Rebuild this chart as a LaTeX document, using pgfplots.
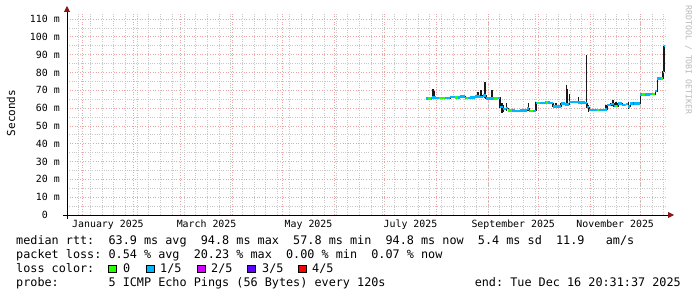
\documentclass[border=0pt]{standalone}
\usepackage{fontspec}
\setmainfont{DejaVu Sans Mono}
\setmonofont{DejaVu Sans Mono}
\usepackage{pgfplots}
\pgfplotsset{compat=1.18}
\usetikzlibrary{arrows.meta}
\definecolor{lgreen}{RGB}{38,255,0}
\definecolor{lcyan}{RGB}{0,184,255}
\definecolor{lmag}{RGB}{211,0,255}
\definecolor{lpurp}{RGB}{94,0,255}
\definecolor{lred}{RGB}{255,0,0}
\definecolor{mgrid}{RGB}{236,165,165}
\definecolor{ngrid}{RGB}{200,200,200}
\definecolor{arrowred}{RGB}{140,20,20}
\definecolor{wmark}{RGB}{185,185,185}
\newcommand\legfont{\fontsize{11.8}{14}\selectfont}
\newcommand\tickfont{\fontsize{9.9}{12}\selectfont}
\begin{document}
\begin{tikzpicture}[x=1pt,y=1pt]
\useasboundingbox[fill=white] (0,0) rectangle (697,297);
\begin{axis}[
  at={(67pt,82pt)}, anchor=south west,
  scale only axis, width=600pt, height=202pt,
  xmin=-9, xmax=350, ymin=0, ymax=113.4,
  axis x line*=bottom, axis y line*=left,
  x axis line style={black, line width=0.9pt, shorten <=-4pt, shorten >=-7pt,
     -{Triangle[length=6pt,width=6pt,color=arrowred]}},
  y axis line style={black, line width=0.9pt, shorten <=-4pt, shorten >=-7pt,
     -{Triangle[length=6pt,width=6pt,color=arrowred]}},
  xtick={0,31,59,90,120,151,181,212,243,273,304,334},
  xticklabels={},
  minor xtick={-9,-2,...,348},
  extra x ticks={15.5,74.5,135.5,196.5,258,319},
  extra x tick labels={January 2025,March 2025,May 2025,July 2025,September 2025,November 2025},
  extra x tick style={grid=none, major tick length=0pt},
  ytick={0,10,...,110},
  yticklabels={0\phantom{~m},10~m,20~m,30~m,40~m,50~m,60~m,70~m,80~m,90~m,100~m,110~m},
  minor y tick num=1,
  grid=both,
  major grid style={mgrid, dash pattern=on 1pt off 1.6pt, line width=0.8pt},
  minor grid style={ngrid, dash pattern=on 1pt off 1.3pt, line width=0.8pt},
  major tick length=0pt, minor tick length=0pt,
  ticklabel style={font=\tickfont, inner sep=0pt, text=black},
  xticklabel style={anchor=base, yshift=-13pt},
  yticklabel style={anchor=east, xshift=-7pt},
  clip=false,
]
% smoke / variation (dark) following the median
\addplot[black!90, line width=1.1pt, const plot] coordinates {
(205.8,65.5)(209.4,66.0)(211.8,65.7)(220.2,66.3)(223.2,66.0)(226.2,66.5)(229.2,65.6)(232.2,65.9)
(235.2,66.6)(238.1,66.4)(239.9,67.0)(241.7,65.5)(248.9,65.8)(250.1,60.5)(251.9,59.5)(253.7,60.0)
(254.9,58.6)(259.1,58.4)(262.1,58.7)(266.3,59.8)(267.5,58.5)(271.6,63.0)(277.0,63.2)(280.0,62.8)
(281.8,60.9)(284.8,61.0)(286.6,62.6)(289.0,62.0)(291.4,63.6)(296.8,63.2)(301.0,62.8)(302.2,60.5)
(303.4,58.8)(306.9,59.0)(309.9,58.8)(312.9,59.2)(314.1,61.7)(316.5,62.3)(318.3,61.2)(320.7,62.5)
(323.1,61.8)(325.5,62.4)(326.7,61.0)(327.9,62.6)(333.9,67.7)(339.9,67.8)(342.9,69.5)(344.1,76.7)
(347.6,80.4)(348.2,94.8)(348.8,94.8)};
% spikes
\addplot[black!90, line width=1.1pt, unbounded coords=jump] coordinates {
(210.0,65.5)(210.0,70.5)(210.0,nan)
(210.6,65.5)(210.6,69.5)(210.6,nan)
(236.9,66.5)(236.9,69.0)(236.9,nan)
(238.7,66.5)(238.7,70.0)(238.7,nan)
(241.1,65.5)(241.1,74.8)(241.1,nan)
(245.3,65.5)(245.3,70.0)(245.3,nan)
(251.3,57.5)(251.3,63.0)(251.3,nan)
(252.4,58.0)(252.4,61.5)(252.4,nan)
(253.7,58.5)(253.7,63.0)(253.7,nan)
(266.9,58.5)(266.9,62.8)(266.9,nan)
(283.6,60.0)(283.6,63.0)(283.6,nan)
(289.6,62.0)(289.6,73.0)(289.6,nan)
(290.2,62.0)(290.2,71.0)(290.2,nan)
(291.4,62.0)(291.4,68.0)(291.4,nan)
(296.8,63.0)(296.8,66.5)(296.8,nan)
(301.6,60.0)(301.6,89.8)(301.6,nan)
(302.8,58.0)(302.8,62.0)(302.8,nan)
(313.5,59.0)(313.5,62.0)(313.5,nan)
(317.7,61.0)(317.7,64.5)(317.7,nan)
(319.5,61.0)(319.5,63.5)(319.5,nan)
(326.7,59.5)(326.7,63.5)};
% median, 1/5 loss colour
\addplot[lcyan, line width=2.4pt, jump mark left] coordinates {
(205.8,65.5)(209.4,66.0)(211.8,65.7)(220.2,66.3)(223.2,66.0)(226.2,66.5)(229.2,65.6)(232.2,65.9)
(235.2,66.6)(238.1,66.4)(239.9,67.0)(241.7,65.5)(248.9,65.8)(250.1,60.5)(251.9,59.5)(253.7,60.0)
(254.9,58.6)(259.1,58.4)(262.1,58.7)(266.3,59.8)(267.5,58.5)(271.6,63.0)(277.0,63.2)(280.0,62.8)
(281.8,60.9)(284.8,61.0)(286.6,62.6)(289.0,62.0)(291.4,63.6)(296.8,63.2)(301.0,62.8)(302.2,60.5)
(303.4,58.8)(306.9,59.0)(309.9,58.8)(312.9,59.2)(314.1,61.7)(316.5,62.3)(318.3,61.2)(320.7,62.5)
(323.1,61.8)(325.5,62.4)(326.7,61.0)(327.9,62.6)(333.9,67.7)(339.9,67.8)(342.9,69.5)(344.1,76.7)
(347.6,80.4)(348.2,94.8)(348.8,94.8)};
% median, 0 loss colour
\addplot[lgreen, line width=2.4pt, unbounded coords=jump] coordinates {
(207.0,65.5)(208.8,65.5)(208.8,nan)
(213.6,65.7)(217.2,65.7)(217.2,nan)
(223.2,66.0)(225.0,66.0)(225.0,nan)
(229.8,65.6)(231.0,65.6)(231.0,nan)
(246.5,65.5)(248.9,65.5)(248.9,nan)
(255.0,58.6)(257.0,58.6)(257.0,nan)
(268.1,58.5)(269.8,58.5)(269.8,nan)
(272.5,63.0)(274.0,63.0)(274.0,nan)
(277.5,63.2)(279.0,63.2)(279.0,nan)
(308.0,59.0)(309.5,59.0)(309.5,nan)
(319.0,61.2)(320.2,61.2)(320.2,nan)
(325.0,61.8)(325.5,61.8)(325.5,nan)
(335.0,67.7)(337.0,67.7)(337.0,nan)
(341.0,67.8)(342.8,67.8)(342.8,nan)
(346.4,76.7)(347.6,76.7)};
% median, 2/5 loss colour
\addplot[lmag, line width=2.4pt] coordinates {(329.4,62.6)(330.4,62.6)};
\end{axis}
% y label and watermark
\node[rotate=90, inner sep=0pt, font=\fontsize{11}{13}\selectfont] at (11,184) {Seconds};
\node[rotate=-90, inner sep=0pt, font=\fontsize{8.2}{10}\selectfont, text=wmark] at (688.5,237) {RRDTOOL / TOBI OETIKER};
% legend lines
\node[anchor=base west, inner sep=0pt, font=\legfont] at (16,52) {median rtt:~~63.9~ms~avg~~94.8~ms~max~~57.8~ms~min~~94.8~ms~now~~5.4~ms~sd~~11.9~~~am/s};
\node[anchor=base west, inner sep=0pt, font=\legfont] at (16,38) {packet loss:~0.54~\%~avg~~20.23~\%~max~~0.00~\%~min~~0.07~\%~now};
\node[anchor=base west, inner sep=0pt, font=\legfont] at (16,24) {loss color:};
\filldraw[draw=black, fill=lgreen, line width=0.8pt] (108.5,24.5) rectangle (116,32);
\filldraw[draw=black, fill=lcyan, line width=0.8pt] (146.5,24.5) rectangle (154,32);
\filldraw[draw=black, fill=lmag, line width=0.8pt] (197.5,24.5) rectangle (205,32);
\filldraw[draw=black, fill=lpurp, line width=0.8pt] (247.5,24.5) rectangle (255,32);
\filldraw[draw=black, fill=lred, line width=0.8pt] (298.5,24.5) rectangle (306,32);
\node[anchor=base west, inner sep=0pt, font=\legfont] at (123,24) {0};
\node[anchor=base west, inner sep=0pt, font=\legfont] at (160,24) {1/5};
\node[anchor=base west, inner sep=0pt, font=\legfont] at (211,24) {2/5};
\node[anchor=base west, inner sep=0pt, font=\legfont] at (262,24) {3/5};
\node[anchor=base west, inner sep=0pt, font=\legfont] at (312,24) {4/5};
\node[anchor=base west, inner sep=0pt, font=\legfont] at (16,10) {probe:~~~~~~~5~ICMP~Echo~Pings~(56~Bytes)~every~120s};
\node[anchor=base east, inner sep=0pt, font=\legfont] at (681,10) {end:~Tue~Dec~16~20:31:37~2025};
\end{tikzpicture}
\end{document}
